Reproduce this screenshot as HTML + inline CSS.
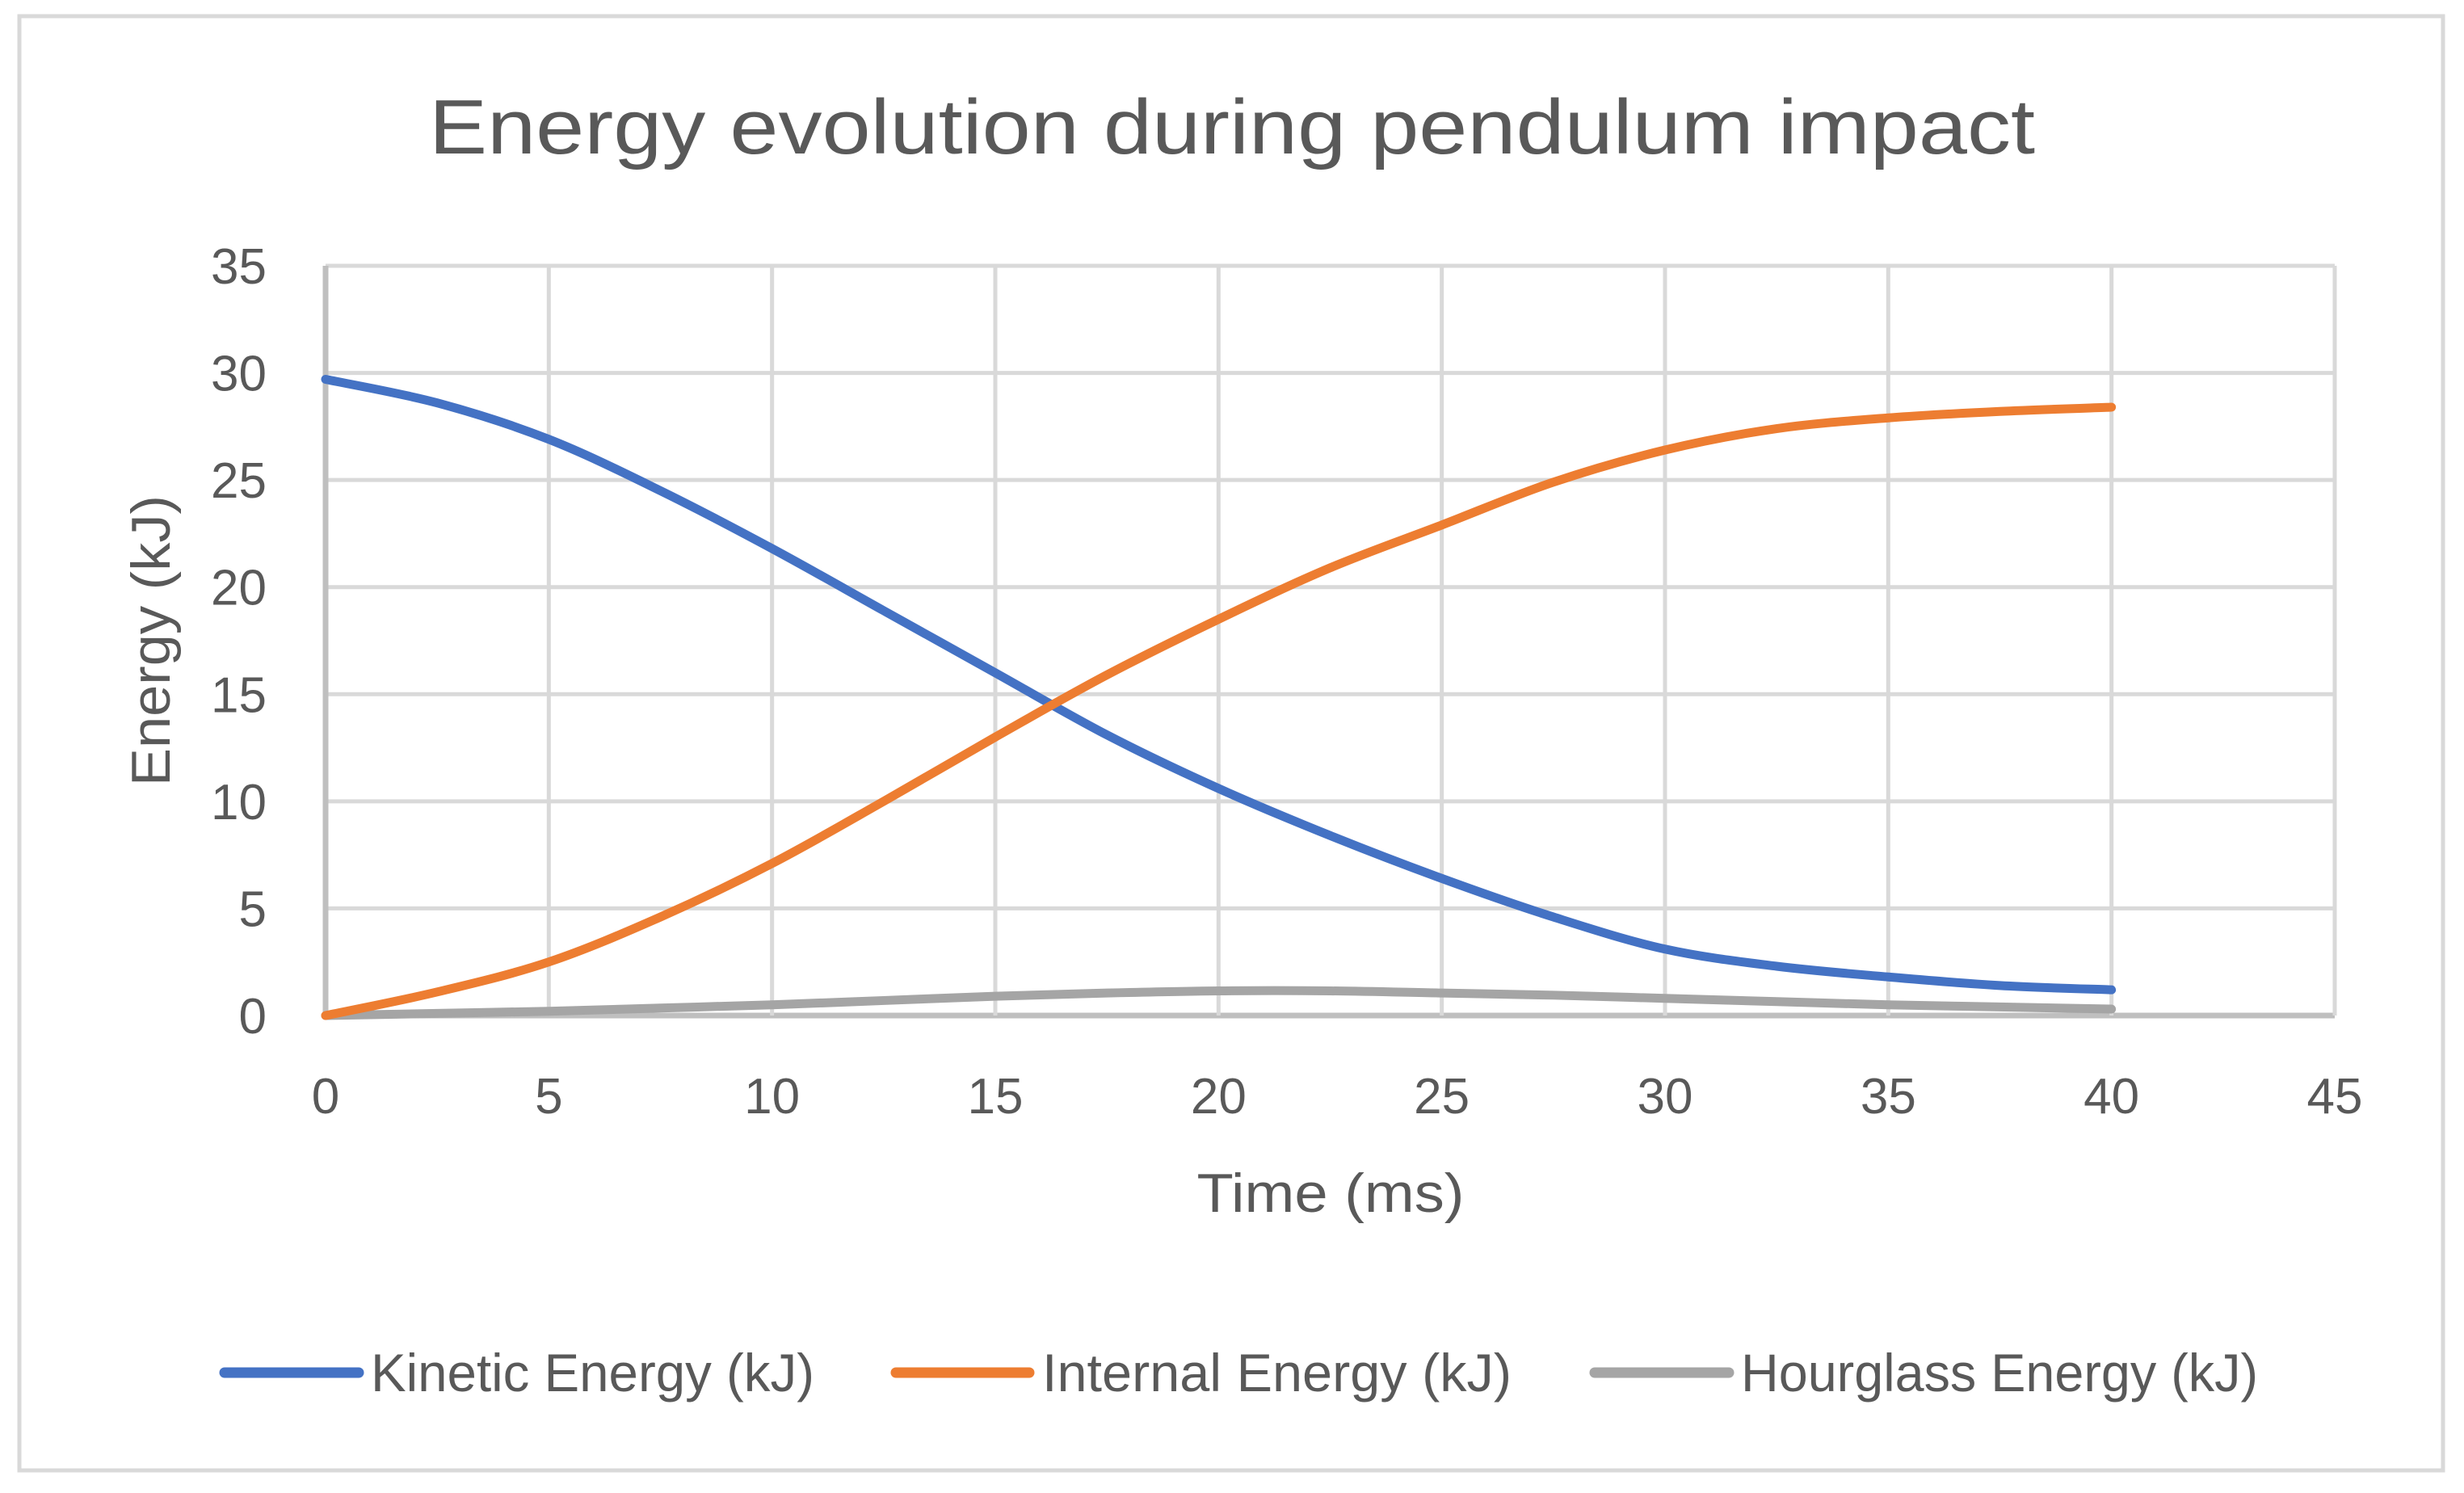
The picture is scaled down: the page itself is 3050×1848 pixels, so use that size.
<!DOCTYPE html>
<html><head><meta charset="utf-8"><style>html,body{margin:0;padding:0;background:#fff}svg{display:block}</style></head>
<body>
<svg id="chart" width="3050" height="1848" viewBox="0 0 3050 1848" xmlns="http://www.w3.org/2000/svg" font-family="'Liberation Sans', sans-serif">
<rect x="24" y="20" width="3000" height="1800" fill="#fff" stroke="#d9d9d9" stroke-width="5"/>
<text x="1525" y="190" text-anchor="middle" font-size="96" fill="#595959" textLength="1988" lengthAdjust="spacingAndGlyphs">Energy evolution during pendulum impact</text>
<g id="grid"></g><g id="series"></g><g id="ticks"></g>
<text x="1647" y="1500" text-anchor="middle" font-size="68" fill="#595959" textLength="331" lengthAdjust="spacingAndGlyphs">Time (ms)</text>
<text transform="translate(210,793) rotate(-90)" text-anchor="middle" font-size="68" fill="#595959" textLength="360" lengthAdjust="spacingAndGlyphs">Energy (kJ)</text>
<g id="legend"></g>
</svg>
<script>
const xTicks=[0,5,10,15,20,25,30,35,40,45];
const yTicks=[0,5,10,15,20,25,30,35];
const time=[0,2.5,5,7.5,10,12.5,15,17.5,20,22.5,25,27.5,30,32.5,35,37.5,40];
const kinetic=[29.7,28.6,26.9,24.5,21.8,18.9,16,13.1,10.6,8.4,6.4,4.6,3.1,2.3,1.8,1.4,1.2];
const internal=[0,1.1,2.5,4.6,7.1,10,13,15.9,18.5,20.9,22.9,24.9,26.4,27.4,27.9,28.2,28.4];
const hourglass=[0,0.1,0.2,0.35,0.5,0.7,0.9,1.05,1.15,1.15,1.05,0.95,0.8,0.65,0.5,0.4,0.3];
const seriesNames=["Kinetic Energy (kJ)","Internal Energy (kJ)","Hourglass Energy (kJ)"];
const NS="http://www.w3.org/2000/svg";
const X0=403,X1=2890,Y0=1257,Y1=329;
const sx=v=>X0+(v-0)/(45-0)*(X1-X0);
const sy=v=>Y0-(v-0)/(35-0)*(Y0-Y1);
function mk(tag,attrs,parent){const e=document.createElementNS(NS,tag);for(const k in attrs)e.setAttribute(k,attrs[k]);parent.appendChild(e);return e;}
const grid=document.getElementById('grid'),ticks=document.getElementById('ticks');
yTicks.forEach(t=>{
 const l=mk('line',{x1:X0,x2:X1,y1:sy(t),y2:sy(t),stroke:t===0?'#bfbfbf':'#d9d9d9','stroke-width':t===0?7:5},grid);
 
 
 const tx=mk('text',{x:330,y:sy(t)+22,'text-anchor':'end','font-size':62,fill:'#595959'},ticks);
 
 
 tx.textContent=t;
});
xTicks.forEach(t=>{
 const l=mk('line',{x1:sx(t),x2:sx(t),y1:Y1,y2:Y0,stroke:t===0?'#bfbfbf':'#d9d9d9','stroke-width':t===0?7:5},grid);
 
 
 const tx=mk('text',{x:sx(t),y:1378,'text-anchor':'middle','font-size':62,fill:'#595959'},ticks);
 
 
 tx.textContent=t;
});
function pathFor(ys){
 const p=time.map((t,i)=>[sx(t),sy(ys[i])]);
 let d='M'+p[0][0]+','+p[0][1];
 for(let i=0;i<p.length-1;i++){
  const a=p[i-1]||p[i],b=p[i],c=p[i+1],e=p[i+2]||c;
  d+=' C'+(b[0]+(c[0]-a[0])/6)+','+(b[1]+(c[1]-a[1])/6)+' '+(c[0]-(e[0]-b[0])/6)+','+(c[1]-(e[1]-b[1])/6)+' '+c[0]+','+c[1];
 }
 return d;
}
const colors=['#4472c4','#ed7d31','#a5a5a5'];
const data=[kinetic,internal,hourglass];
const sg=document.getElementById('series');
[2,0,1].forEach(i=>{
 const p=mk('path',{d:pathFor(data[i]),fill:'none',stroke:colors[i],'stroke-width':11,'stroke-linecap':'round','stroke-linejoin':'round'},sg);
 
 
});
const lg=document.getElementById('legend');
const lx=[[278,444,459,549],[1109,1274,1290,581],[1974,2140,2155,640]];
lx.forEach((v,i)=>{
 const l=mk('line',{x1:v[0],x2:v[1],y1:1699,y2:1699,stroke:colors[i],'stroke-width':13,'stroke-linecap':'round'},lg);
 
 
 const t=mk('text',{x:v[2],y:1722,'font-size':66,fill:'#595959',textLength:v[3],lengthAdjust:'spacingAndGlyphs'},lg);
 
 
 t.textContent=seriesNames[i];
});
</script>
</body></html>
